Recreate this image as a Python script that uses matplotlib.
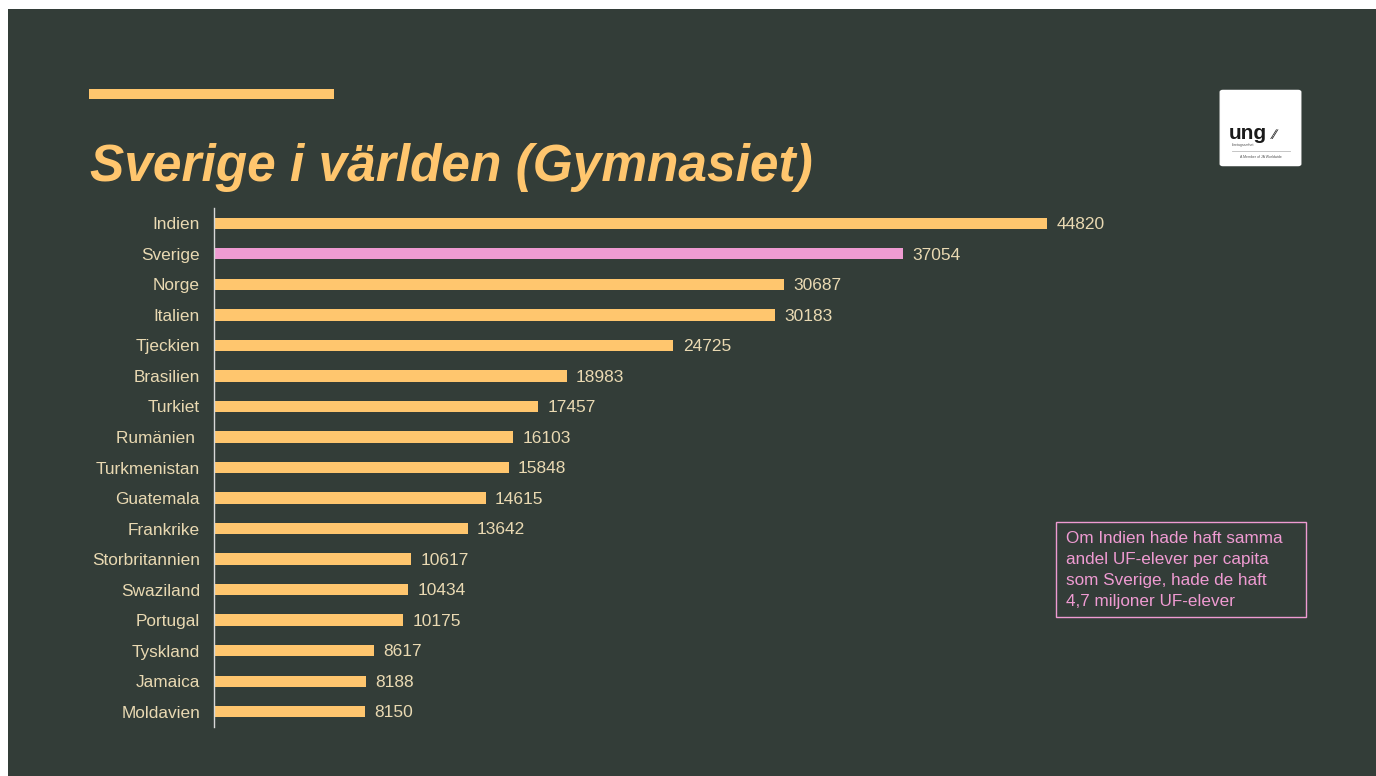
import matplotlib
matplotlib.use("Agg")
import matplotlib.pyplot as plt
from matplotlib.patches import Rectangle, FancyBboxPatch

# data
countries = ["Indien", "Sverige", "Norge", "Italien", "Tjeckien", "Brasilien", "Turkiet",
             "Rumänien ", "Turkmenistan", "Guatemala", "Frankrike", "Storbritannien",
             "Swaziland", "Portugal", "Tyskland", "Jamaica", "Moldavien"]
values = [44820, 37054, 30687, 30183, 24725, 18983, 17457, 16103, 15848, 14615,
          13642, 10617, 10434, 10175, 8617, 8188, 8150]
highlight = "Sverige"

title = "Sverige i världen (Gymnasiet)"
note = ("Om Indien hade haft samma\nandel UF-elever per capita\n"
        "som Sverige, hade de haft\n4,7 miljoner UF-elever")

BG = "#333d38"
BAR = "#ffc66e"
PINK = "#ef9bd2"
TXT = "#e9d9b2"

W, H = 1376, 776
plt.rcParams['font.family'] = ['Liberation Sans', 'DejaVu Sans']

fig = plt.figure(figsize=(W / 100, H / 100), dpi=100)
fig.patch.set_facecolor("white")


def fx(px):
    return px / W


def fy(py):
    return 1 - py / H


# slide background with the white margin top/left
fig.patches.append(Rectangle((fx(8), 0), 1 - fx(8), fy(9), transform=fig.transFigure,
                             facecolor=BG, edgecolor="none", zorder=-5))

# accent line over the title
fig.patches.append(Rectangle((fx(89), fy(99)), fx(334) - fx(89), 10 / H,
                             transform=fig.transFigure, facecolor=BAR, edgecolor="none"))

fig.text(fx(90), fy(181), title, color=BAR, fontsize=37, fontweight="bold",
         fontstyle="italic", ha="left", va="baseline")

# logo card
fig.patches.append(FancyBboxPatch((fx(1223), fy(164)), fx(1298) - fx(1223), 72 / H,
                                  boxstyle="round,pad=0.002", transform=fig.transFigure,
                                  facecolor="white", edgecolor="white"))
fig.text(fx(1229), fy(139), "ung", color="#1a1a1a", fontsize=15, fontweight="bold",
         ha="left", va="baseline")
fig.text(fx(1273), fy(139), "\u2215\u2215", color="#333333", fontsize=10,
         ha="left", va="baseline")
fig.text(fx(1231), fy(146), "företagsamhet", color="#555555", fontsize=2.5,
         ha="left", va="baseline")
fig.add_artist(plt.Line2D([fx(1232), fx(1290)], [fy(151), fy(151)],
                          transform=fig.transFigure, color="#bbbbbb", lw=0.6))
fig.text(fx(1261), fy(158), "A Member of JA Worldwide", color="#555555", fontsize=2.5,
         ha="center", va="baseline")

# bar chart
ax = fig.add_axes([fx(214), fy(727), fx(1329) - fx(214), (727 - 208) / H])
ax.set_facecolor("none")
ax.set_zorder(2)
colors = [PINK if c == highlight else BAR for c in countries]
ypos = list(range(len(countries)))
ax.barh(ypos, values, height=0.37, color=colors, edgecolor="none")
ax.set_xlim(0, 60000)
ax.set_ylim(len(countries) - 0.5, -0.5)
ax.set_yticks(ypos)
ax.set_yticklabels(countries, color=TXT, fontsize=12.4)
ax.tick_params(axis="y", length=0, pad=10)
ax.set_xticks([])
for s in ["top", "right", "bottom"]:
    ax.spines[s].set_visible(False)
ax.spines["left"].set_color("#d8d8d8")
ax.spines["left"].set_linewidth(1)

for y, v in zip(ypos, values):
    ax.text(v + 500, y + 0.04, str(v), color=TXT, fontsize=12.5, va="center", ha="left")

# note box
fig.patches.append(Rectangle((fx(1056), fy(617)), fx(1306) - fx(1056), (617 - 522) / H,
                             transform=fig.transFigure, facecolor="none",
                             edgecolor=PINK, lw=1))
fig.text(fx(1066), fy(531), note, color=PINK, fontsize=12.3, ha="left", va="top",
         linespacing=1.5)

fig.savefig("out.png", dpi=100, facecolor=fig.get_facecolor())
